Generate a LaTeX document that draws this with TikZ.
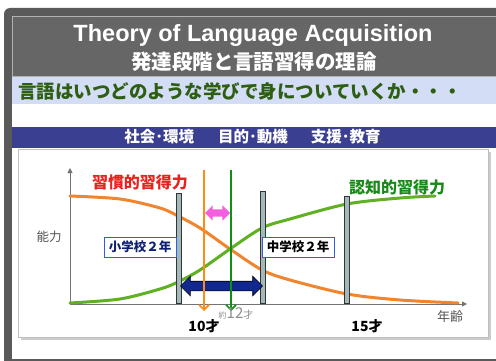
\documentclass[tikz,border=0pt]{standalone}
\usepackage{fontspec}
\setmainfont{Liberation Sans}
\newfontfamily\jp{Noto Sans CJK JP}
\usetikzlibrary{shapes.arrows,arrows.meta}
\definecolor{framegray}{HTML}{5A5A5A}
\definecolor{titlegray}{HTML}{666666}
\definecolor{bandblue}{HTML}{D4DDF6}
\definecolor{bargreen}{HTML}{2E5E12}
\definecolor{barnavy}{HTML}{3B3F92}
\definecolor{habitred}{HTML}{E8231E}
\definecolor{cogngreen}{HTML}{178A17}
\definecolor{curveorange}{HTML}{F08530}
\definecolor{curvegreen}{HTML}{5FB023}
\definecolor{arroworange}{HTML}{FF8A14}
\definecolor{arrowgreen}{HTML}{109010}
\definecolor{gappink}{HTML}{F25FE0}
\definecolor{spannavy}{HTML}{102890}
\definecolor{sepfill}{HTML}{A3B8B8}
\definecolor{boxblue}{HTML}{2F5DE8}
\definecolor{labelgray}{HTML}{555555}
\begin{document}
\begin{tikzpicture}[x=1pt,y=-1pt,
        jptext/.style={font={\jp\bfseries\fontsize{#1}{#1}\selectfont}, inner sep=0pt},
        sepbar/.style={draw=black!80, fill=sepfill, line width=0.6pt, minimum width=4.5pt, inner sep=0pt},
        gradebox/.style={draw=boxblue, fill=white, line width=0.8pt, minimum width=72pt, minimum height=20pt, inner sep=0pt},
        agearrow/.style={line width=1.6pt, -{Straight Barb[length=5pt,width=10pt]}},
        axisline/.style={draw=black!55, line width=0.9pt},
        curve/.style={line width=3pt, line cap=round}]
    \useasboundingbox (0,0) rectangle (496,361);
    \fill[white] (0,0) rectangle (496,361);

    \fill[framegray, rounded corners=6pt] (4,8) rectangle (510,375);
    \fill[white] (12,16) rectangle (496,359);
    \filldraw[fill=titlegray, draw=black!30, line width=0.8pt] (12,16) rectangle (496,76);
    \fill[bandblue] (12,77) rectangle (496,104);
    \fill[barnavy] (12,127) rectangle (496,148);
    \fill[black!20] (21,152) rectangle (491,340);
    \filldraw[fill=white, draw=black!25] (18,149) rectangle (488,337);

    \node[text=white, font={\bfseries\fontsize{23.5}{23.5}\selectfont}, inner sep=0pt] (title) at (253,35) {Theory of Language Acquisition};
    \node[jptext=20.5, text=white] (subtitle) at (254,62) {発達段階と言語習得の理論};
    \node[jptext=18.5, text=bargreen, anchor=west] (question) at (18,91) {言語はいつどのような学びで身についていくか・・・};
    \node[jptext=15.5, text=white] (factors) at (252.5,137) {社会･環境\hspace{24pt}目的･動機\hspace{23pt}支援･教育};

    \coordinate (origin) at (70,304);
    \coordinate (ytop) at (70,168);
    \coordinate (xend) at (467,304);
    \draw[axisline, -{Triangle[length=5pt,width=5pt]}] (origin) -- (ytop);
    \draw[axisline, -{Triangle[length=5pt,width=5pt]}] (origin) -- (xend);
    \node[font={\jp\fontsize{12.5}{12.5}\selectfont}, text=labelgray, inner sep=0pt] (ability) at (49,237) {能力};
    \node[font={\jp\fontsize{13}{13}\selectfont}, text=labelgray, inner sep=0pt] (age) at (450,317) {年齢};

    \draw[curve, curveorange] plot[smooth] coordinates {(70,196) (120,199) (160,208) (178,216) (200,228) (230,249) (262,270) (290,280) (347,294) (400,300) (458,303)};
    \draw[curve, curvegreen] plot[smooth] coordinates {(70,303) (120,299) (160,289) (178,282) (200,270) (230,249) (262,228) (290,219) (347,204) (400,198) (435,196)};

    \node[sepbar, minimum height=110pt] (barA) at (179,248) {};
    \node[sepbar, minimum height=112pt] (barB) at (263,247) {};
    \node[sepbar, minimum height=107pt] (barC) at (347,249.5) {};

    \node[gradebox] (elementary) at (140,247) {};
    \node[jptext=12.5, text=spannavy!80!black] at (elementary) {小学校２年};
    \node[gradebox] (juniorhigh) at (298,247) {};
    \node[jptext=12.5, text=black] at (juniorhigh) {中学校２年};

    \node[double arrow, fill=spannavy, draw=black, line width=0.6pt, minimum height=82pt, inner xsep=0pt, inner ysep=4.5pt, double arrow head extend=5pt] (span) at (221.5,286) {};

    \coordinate (tenTop) at (204,170);
    \coordinate (tenEnd) at (204,311);
    \coordinate (twelveTop) at (231,170);
    \coordinate (twelveEnd) at (231,311);
    \draw[agearrow, arroworange] (tenTop) -- (tenEnd);
    \draw[agearrow, arrowgreen] (twelveTop) -- (twelveEnd);

    \node[double arrow, fill=gappink, minimum height=25pt, inner xsep=0pt, inner ysep=3.5pt, double arrow head extend=4pt] (gap) at (217.5,213) {};

    \node[jptext=16, text=habitred] (habit) at (140,182) {習慣的習得力};
    \node[jptext=16, text=cogngreen] (cognitive) at (397,187) {認知的習得力};

    \node[text=black!45, inner sep=0pt, font=\jp] (twelve) at (236,313) {{\fontsize{8}{8}\selectfont 約}{\fontsize{15}{15}\selectfont 12}{\fontsize{10}{10}\selectfont 才}};
    \node[jptext=14, text=black] (ten) at (204,326.5) {10才};
    \node[jptext=14, text=black] (fifteen) at (367,326) {15才};
\end{tikzpicture}
\end{document}
